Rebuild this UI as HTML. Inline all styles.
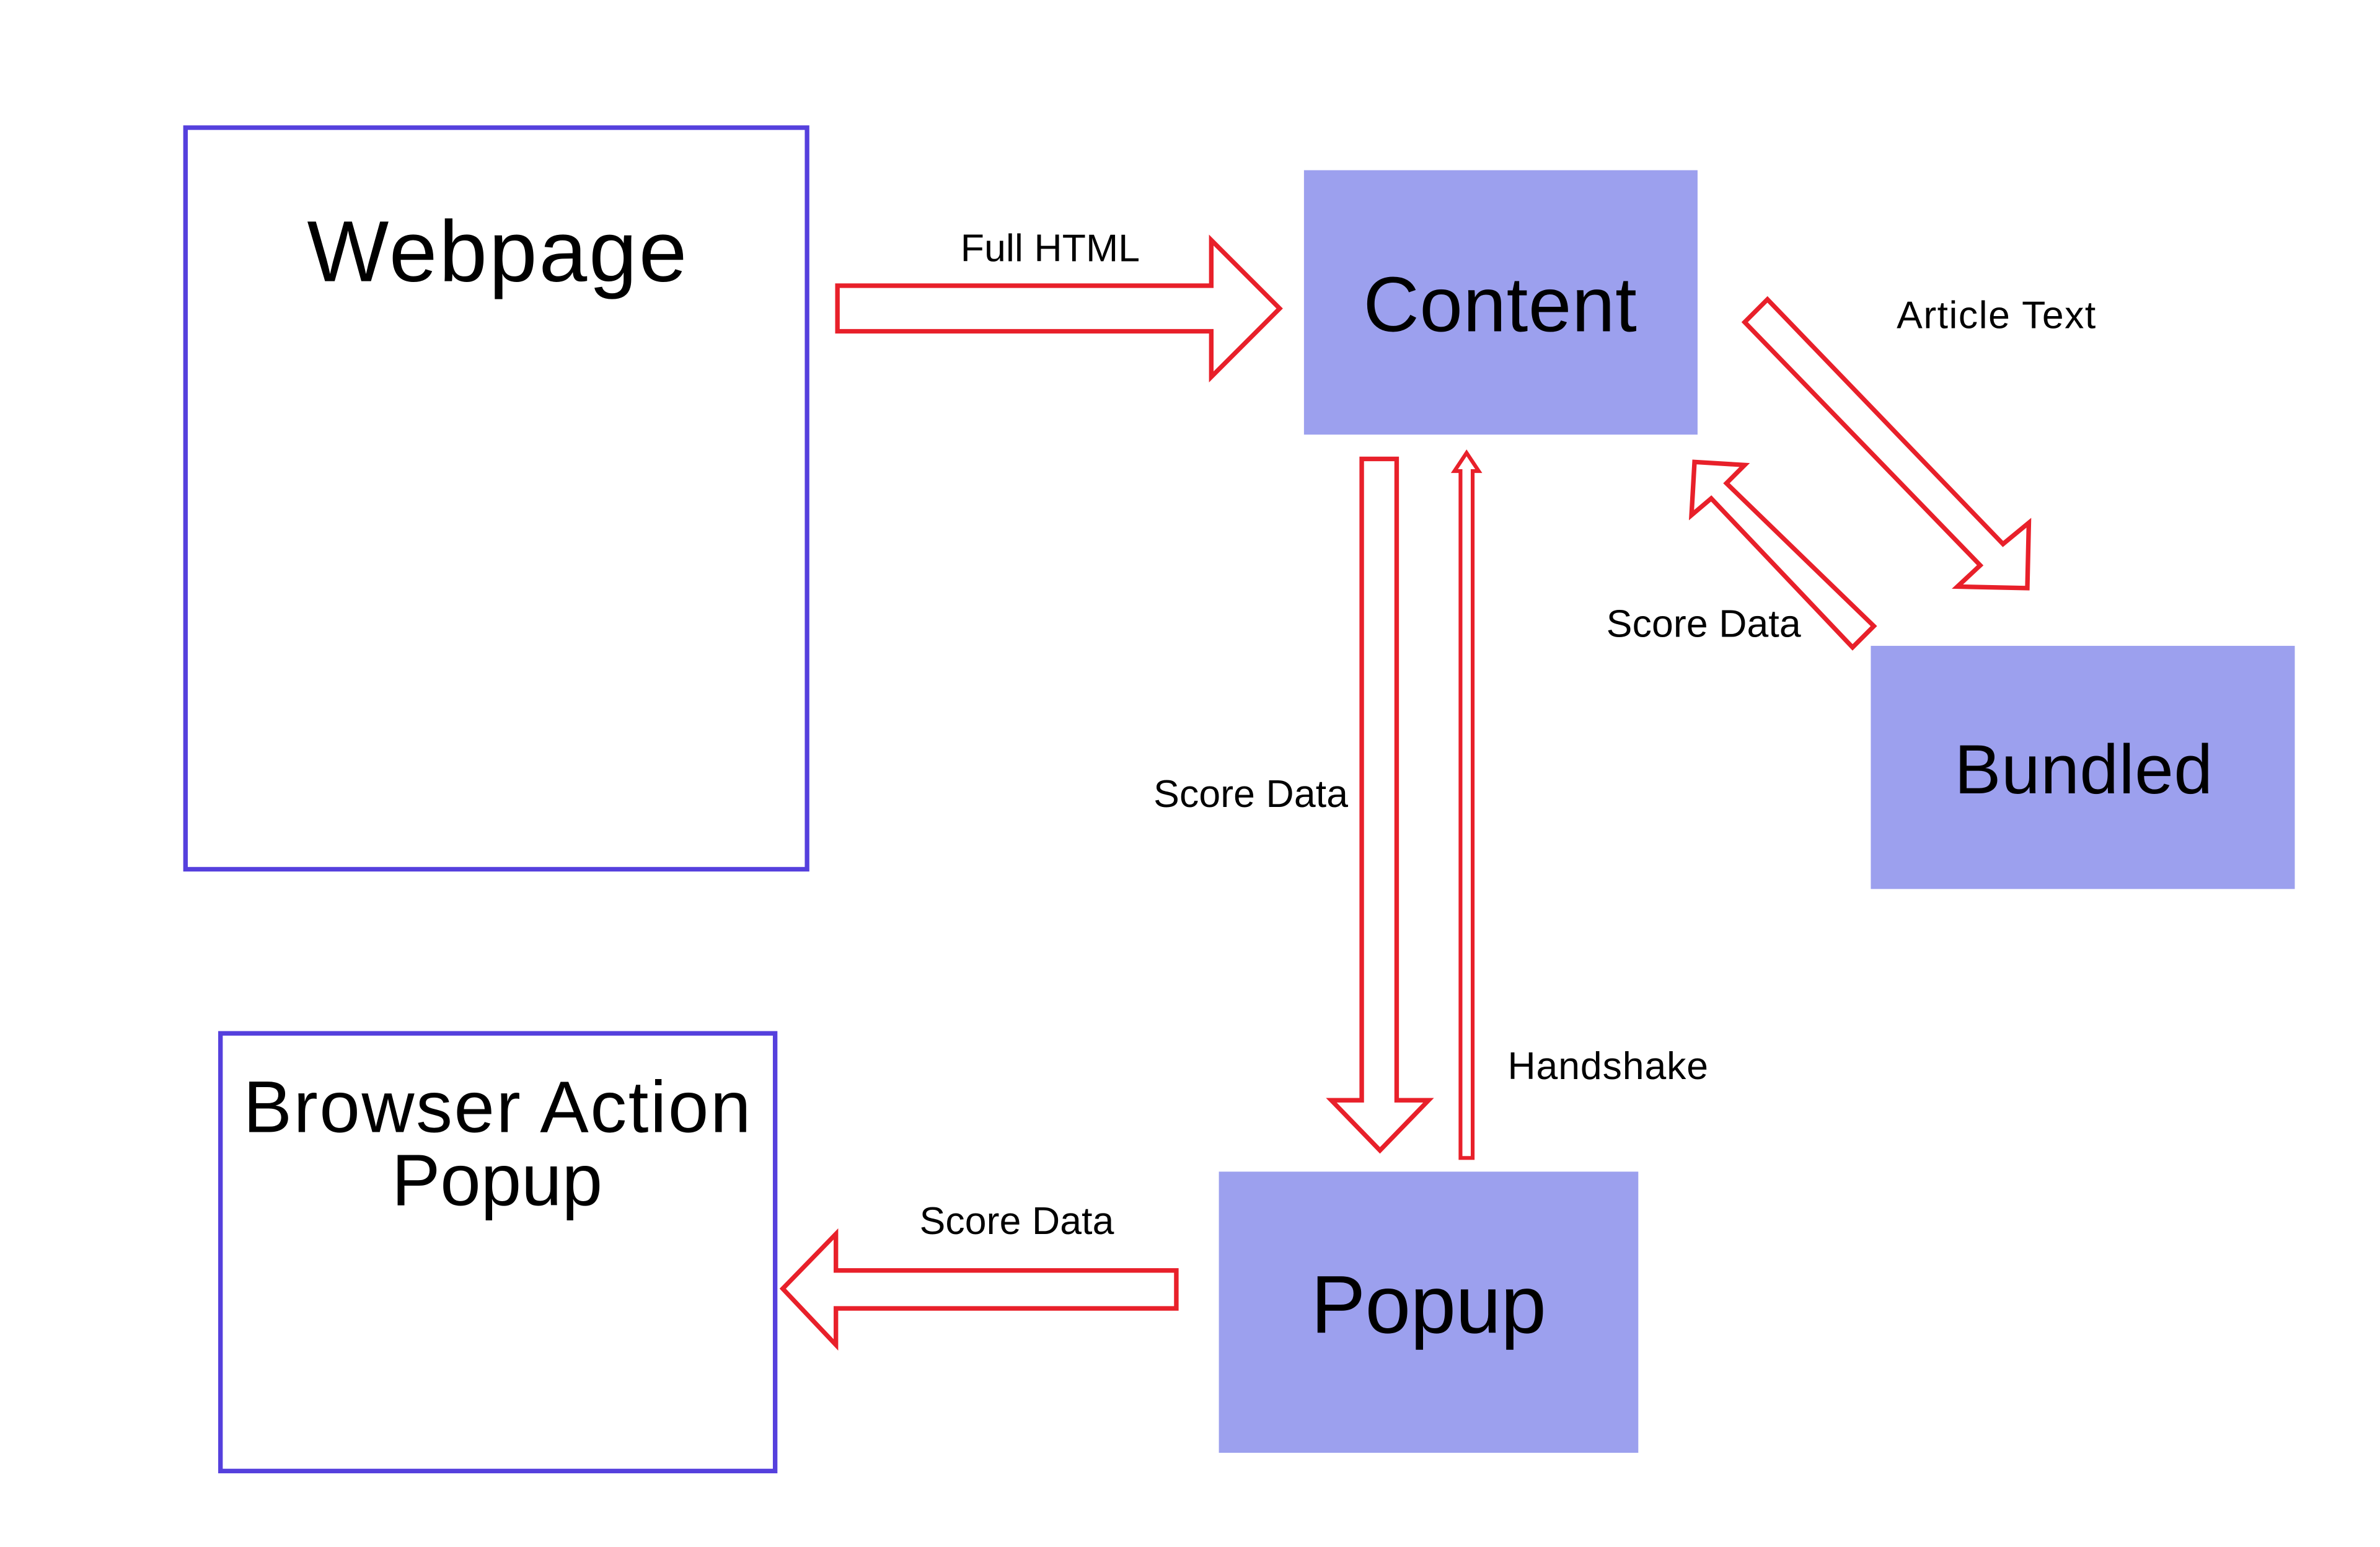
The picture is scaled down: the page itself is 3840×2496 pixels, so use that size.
<!DOCTYPE html>
<html><head><meta charset="utf-8"><style>
html,body{margin:0;padding:0;background:#fff;width:3840px;height:2496px;overflow:hidden}
svg{display:block}
text{font-family:"Liberation Sans",sans-serif;fill:#000}
</style></head><body>
<svg width="3840" height="2496" viewBox="0 0 1566 1018" xmlns="http://www.w3.org/2000/svg">
<rect x="0" y="0" width="1566" height="1018" fill="#fff"/>
<rect x="122" y="84" width="409" height="488" fill="none" stroke="#5540dd" stroke-width="3"/>
<text x="327" y="185" font-size="57" text-anchor="middle" textLength="250">Webpage</text>
<rect x="145" y="680" width="365" height="288" fill="none" stroke="#5540dd" stroke-width="3"/>
<text x="327" y="745" font-size="48" text-anchor="middle" textLength="334">Browser Action</text>
<text x="327" y="793" font-size="48" text-anchor="middle">Popup</text>
<rect x="858" y="112" width="259" height="174" fill="#9ca0ee"/>
<text x="987" y="218" font-size="51" text-anchor="middle" textLength="180">Content</text>
<rect x="1231" y="425" width="279" height="160" fill="#9ca0ee"/>
<text x="1371" y="522" font-size="46" text-anchor="middle" textLength="170">Bundled</text>
<rect x="802" y="771" width="276" height="185" fill="#9ca0ee"/>
<text x="940" y="877" font-size="54" text-anchor="middle" textLength="155">Popup</text>
<g fill="none" stroke="#e8202a" stroke-width="3" stroke-linejoin="miter">
<polygon points="551,188 797,188 797,158 842,203 797,248 797,218 551,218"/>
<polygon points="896,302 919,302 919,724 940,724 908,757 876,724 896,724"/>
<polygon points="961,762 969,762 969,310 973,310 965,298 957,310 961,310" stroke-width="2.5"/>
<polygon points="1163,197 1318,358 1335,344 1334,387 1288,386 1303,372 1148,212"/>
<polygon points="1233,412 1136,318 1148,306 1115,304 1113,339 1126,328 1219,426"/>
<polygon points="774,836 550,836 550,812 515,848 550,885 550,861 774,861"/>
</g>
<text x="691" y="172" font-size="25.5" text-anchor="middle" textLength="118">Full HTML</text>
<text x="1248" y="216" font-size="25.5" textLength="131">Article Text</text>
<text x="1057" y="419" font-size="25.5" textLength="128">Score Data</text>
<text x="759" y="531" font-size="25.5" textLength="128">Score Data</text>
<text x="992" y="710" font-size="25.5" textLength="132">Handshake</text>
<text x="605" y="812" font-size="25.5" textLength="128">Score Data</text>
</svg>
</body></html>
